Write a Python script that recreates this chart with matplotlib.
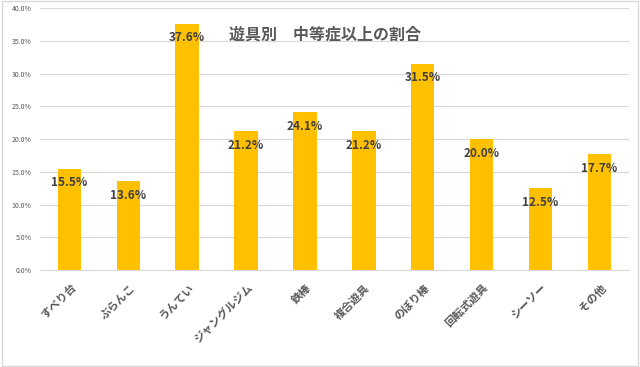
import matplotlib
matplotlib.use('Agg')
import matplotlib.pyplot as plt
from matplotlib.ticker import PercentFormatter
from matplotlib.patches import Rectangle

plt.rcParams['font.family'] = ['Noto Sans CJK JP', 'DejaVu Sans']

# Data
categories = ['すべり台', 'ぶらんこ', 'うんてい', 'ジャングルジム', '鉄棒',
              '複合遊具', 'のぼり棒', '回転式遊具', 'シーソー', 'その他']
values = [15.5, 13.6, 37.6, 21.2, 24.1, 21.2, 31.5, 20.0, 12.5, 17.7]
title = '遊具別　中等症以上の割合'

fig = plt.figure(figsize=(6.4, 3.67), dpi=100)
ax = fig.add_axes([0.0625, 0.264, 0.92, 0.714])

x = range(len(categories))
bars = ax.bar(x, values, width=0.4, color='#FFC000', zorder=3)

for b, v in zip(bars, values):
    ax.annotate(f'{v:.1f}%', (b.get_x() + b.get_width() / 2, v),
                xytext=(0, -14), textcoords='offset pixels',
                ha='center', va='center', fontsize=8.5, fontweight='bold',
                color='#404040', zorder=4)

ax.set_xlim(-0.5, len(categories) - 0.5)
ax.set_ylim(0, 40)
ax.set_yticks(range(0, 41, 5))
ax.yaxis.set_major_formatter(PercentFormatter(decimals=1))
ax.grid(axis='y', color='#D9D9D9', linewidth=0.8, zorder=0)
ax.tick_params(axis='y', length=0, labelsize=5, labelcolor='#595959', pad=6)
ax.tick_params(axis='x', length=0, pad=8)
ax.set_xticks(list(x))
ax.set_xticklabels(categories, rotation=45, ha='right', rotation_mode='anchor',
                   fontsize=8, fontweight='bold', color='#595959')
for s in ['top', 'right', 'left']:
    ax.spines[s].set_visible(False)
ax.spines['bottom'].set_color('#D9D9D9')

# title sits inside the plot area like the original chart
ax.text(0.484, 0.9, title, transform=ax.transAxes, ha='center', va='center',
        fontsize=11.5, fontweight='bold', color='#595959', zorder=5)

fig.patches.append(Rectangle((0.003, 0.004), 0.994, 0.992, transform=fig.transFigure,
                             fill=False, edgecolor='#D9D9D9', linewidth=1))

fig.savefig('out.png', dpi=100)
